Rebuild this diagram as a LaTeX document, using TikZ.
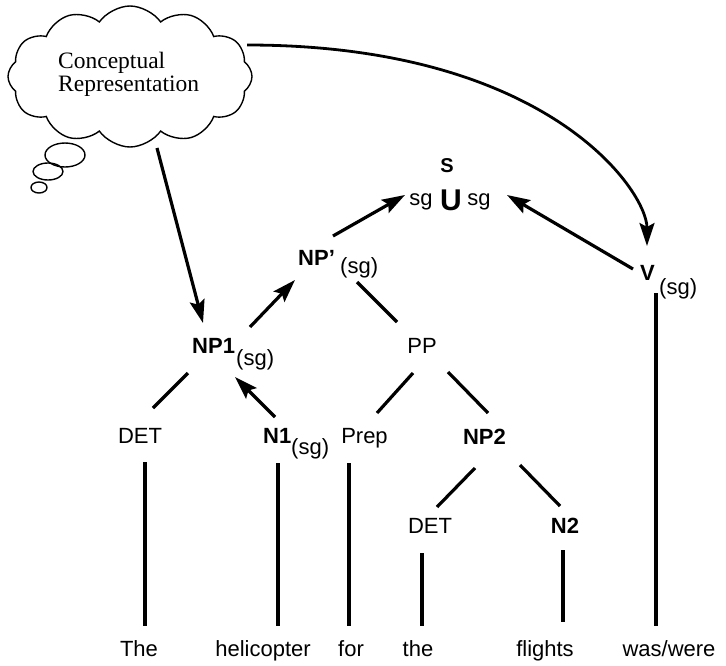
\documentclass[tikz,border=0pt]{standalone}
\usepackage{fontspec}
\setmainfont{Liberation Sans}
\newfontfamily\cloudfont{Liberation Serif}
\usetikzlibrary{arrows.meta,shapes.symbols}
\begin{document}
\begin{tikzpicture}[x=1pt,y=-1pt,
  lbl/.style={font=\fontsize{22}{24}\selectfont, inner sep=0pt, anchor=base},
  blbl/.style={font=\fontsize{22}{24}\selectfont\bfseries, inner sep=0pt, anchor=base},
  subl/.style={font=\fontsize{22}{24}\selectfont, inner sep=0pt, anchor=base west},
  ctxt/.style={font=\cloudfont\fontsize{23.5}{24}\selectfont, inner sep=0pt, anchor=base west},
  edge/.style={line width=3.2pt},
  stem/.style={line width=3.2pt},
  arr/.style={line width=3.2pt, -{Stealth[length=23pt,width=15pt,inset=4pt]}},
  bubble/.style={line width=1.4pt},
]
\useasboundingbox (0,0) rectangle (726,665);

% cloud
\node[cloud, draw, line width=1.4pt, cloud puffs=12, cloud puff arc=110, aspect=1.72,
      minimum width=244pt, minimum height=141pt, inner sep=0pt] (cloud) at (130,76.5) {};
\node[ctxt] (c1) at (58,68) {Conceptual};
\node[ctxt] (c2) at (58,91) {Representation};
\draw[bubble] (65,155) ellipse [x radius=20pt, y radius=12pt];
\draw[bubble] (48,171.5) ellipse [x radius=15pt, y radius=8.5pt];
\draw[bubble] (39,187.5) ellipse [x radius=8pt, y radius=5.5pt];

% labels
\node[blbl, font=\fontsize{20}{24}\selectfont\bfseries] (s) at (447,172) {S};
\node[blbl, font=\fontsize{30}{30}\selectfont\bfseries] (u) at (451,210) {U};
\node[lbl] (sgl) at (421,205) {sg};
\node[lbl] (sgr) at (479,205) {sg};

\node[blbl, anchor=base west] (npp) at (298,265) {NP’};
\node[subl] (nppsg) at (340,273) {(sg)};
\node[blbl, anchor=base west] (np1) at (192,353) {NP1};
\node[subl] (np1sg) at (236,365.5) {(sg)};
\node[lbl] (pp) at (422,353) {PP};
\node[lbl] (det1) at (140,443) {DET};
\node[blbl, anchor=base west] (n1) at (263,443) {N1};
\node[subl] (n1sg) at (291,454) {(sg)};
\node[lbl] (prep) at (364.5,443) {Prep};
\node[blbl] (np2) at (484.5,444) {NP2};
\node[lbl] (det2) at (430,533) {DET};
\node[blbl] (n2) at (565,533) {N2};
\node[blbl, anchor=base west] (v) at (640,280) {V};
\node[subl] (vsg) at (659,294) {(sg)};

% words
\node[lbl] (w1) at (139,656) {The};
\node[lbl] (w2) at (263,656) {helicopter};
\node[lbl] (w3) at (351,656) {for};
\node[lbl] (w4) at (418,656) {the};
\node[lbl] (w5) at (545,656) {flights};
\node[lbl] (w6) at (669,656) {was/were};

% connector ends
\coordinate (c-out) at (157,148);
\coordinate (np1-in) at (203,323);
\coordinate (np1-up) at (250,327);
\coordinate (npp-in) at (295,280);
\coordinate (npp-up) at (333,236);
\coordinate (u-l) at (405,195);
\coordinate (v-up) at (633,269);
\coordinate (u-r) at (507,195);
\coordinate (cloud-r) at (247,45);
\coordinate (v-top) at (647,246);
\coordinate (np1-dl) at (188,373);
\coordinate (det1-t) at (153,408);
\coordinate (n1-t) at (275,417);
\coordinate (np1-dr) at (235,377);
\coordinate (npp-dr) at (357,282);
\coordinate (pp-t) at (397,322);
\coordinate (pp-dl) at (413,373);
\coordinate (prep-t) at (377,413);
\coordinate (pp-dr) at (448,372);
\coordinate (np2-t) at (488,413);
\coordinate (np2-dl) at (475,468);
\coordinate (det2-t) at (437,507);
\coordinate (np2-dr) at (520,465);
\coordinate (n2-t) at (560,506);

\coordinate (det1-b) at (145,462);  \coordinate (w1-t) at (145,626);
\coordinate (n1-b) at (278,463);    \coordinate (w2-t) at (278,626);
\coordinate (prep-b) at (349,463);  \coordinate (w3-t) at (349,626);
\coordinate (det2-b) at (422,553);  \coordinate (w4-t) at (422,626);
\coordinate (n2-b) at (563,550);    \coordinate (w5-t) at (563,622);
\coordinate (v-b) at (656,293);     \coordinate (w6-t) at (656,626);

% arrows
\draw[arr] (c-out) -- (np1-in);
\draw[arr] (np1-up) -- (npp-in);
\draw[arr] (npp-up) -- (u-l);
\draw[arr] (v-up) -- (u-r);
\draw[arr] (n1-t) -- (np1-dr);
\draw[arr, line width=2.8pt] (cloud-r) .. controls (548,45) and (647,191) .. (v-top);

% tree edges
\draw[edge] (np1-dl) -- (det1-t);
\draw[edge] (npp-dr) -- (pp-t);
\draw[edge] (pp-dl) -- (prep-t);
\draw[edge] (pp-dr) -- (np2-t);
\draw[edge] (np2-dl) -- (det2-t);
\draw[edge] (np2-dr) -- (n2-t);

% stems
\draw[stem] (det1-b) -- (w1-t);
\draw[stem] (n1-b) -- (w2-t);
\draw[stem] (prep-b) -- (w3-t);
\draw[stem] (det2-b) -- (w4-t);
\draw[stem] (n2-b) -- (w5-t);
\draw[stem] (v-b) -- (w6-t);
\end{tikzpicture}
\end{document}
